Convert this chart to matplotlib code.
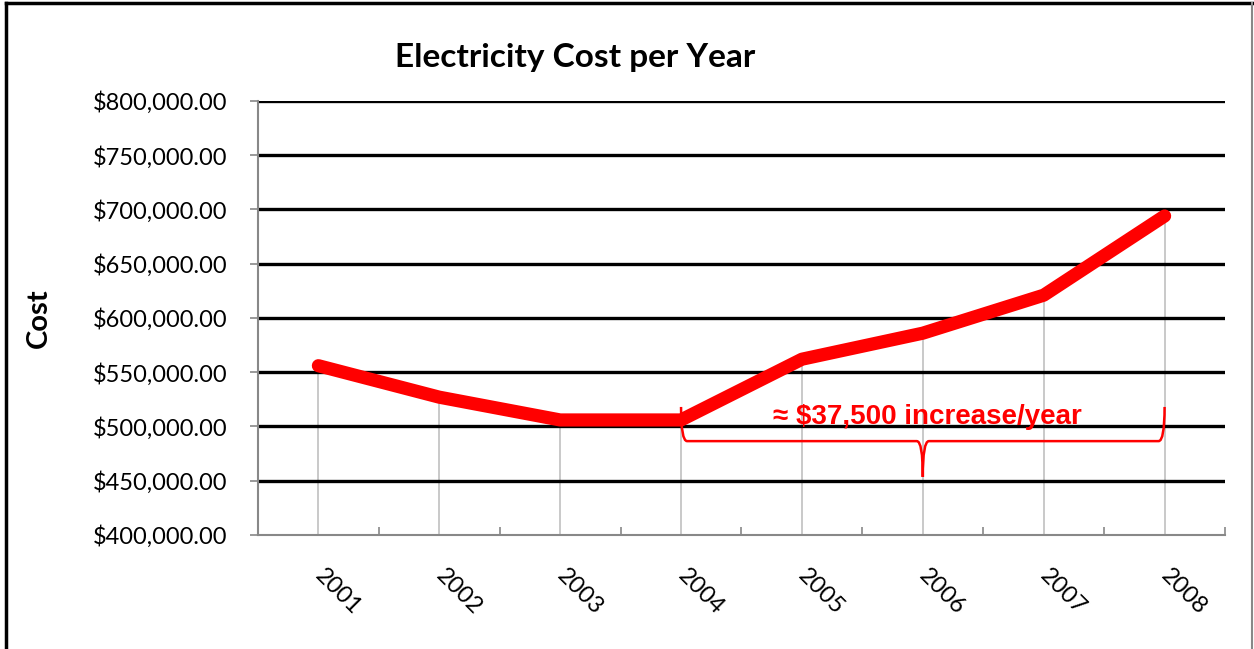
import numpy as np
import matplotlib
matplotlib.use('Agg')
import matplotlib.pyplot as plt
from matplotlib.path import Path
from matplotlib.patches import PathPatch
from matplotlib.lines import Line2D
from matplotlib.ticker import FuncFormatter

years = ['2001', '2002', '2003', '2004', '2005', '2006', '2007', '2008']
cost = [556000, 527000, 506000, 506000, 562000, 586000, 621000, 694000]
y_ticks = [400000, 450000, 500000, 550000, 600000, 650000, 700000, 750000, 800000]
note = '\u2248 $37,500 increase/year'
brace_from, brace_to = 3, 7   # 2004 .. 2008

plt.rcParams['font.family'] = ['Lato', 'DejaVu Sans']

fig = plt.figure(figsize=(12.54, 6.49), dpi=100)
ax = fig.add_axes([0.2057, 0.1757, 0.7712, 0.6687])

x = np.arange(len(years))

# drop lines from each point to the axis
ax.vlines(x, y_ticks[0], cost, color='#c0c0c0', lw=1.2, zorder=1)
# heavy black gridlines
ax.hlines(y_ticks[1:], -0.5, len(years) - 0.5, color='black', lw=2.4, zorder=2)
ax.plot(x, cost, color='#ff0000', lw=9.5, solid_capstyle='round',
        solid_joinstyle='round', zorder=4)

ax.set_xlim(-0.5, len(years) - 0.5)
ax.set_ylim(y_ticks[0], y_ticks[-1])
ax.set_yticks(y_ticks)
ax.yaxis.set_major_formatter(FuncFormatter(lambda v, p: '${:,.2f}'.format(v)))
ax.tick_params(axis='y', labelsize=17, length=6, width=1.2, color='#888888', pad=16)

ax.set_xticks(x)
ax.set_xticklabels(years, rotation=-45, ha='left', va='center', rotation_mode='anchor')
ax.tick_params(axis='x', which='major', length=0, labelsize=17, pad=27)
ax.set_xticks(np.arange(-0.5, len(years)), minor=True)
ax.tick_params(axis='x', which='minor', direction='in', length=6, width=1.2, color='#888888')

for s in ['top', 'right']:
    ax.spines[s].set_visible(False)
for s in ['left', 'bottom']:
    ax.spines[s].set_color('#888888')
    ax.spines[s].set_linewidth(1.5)
    ax.spines[s].set_zorder(3)

ax.set_ylabel('Cost', fontsize=21, fontweight='bold')
ax.yaxis.set_label_coords(-0.213, 0.5)
fig.text(0.4585, 0.912, 'Electricity Cost per Year', fontsize=24, fontweight='bold',
         ha='center', va='center')

# curly brace spanning 2004-2008
top, mid, tip = 518000, 486500, 453500
xm = (brace_from + brace_to) / 2
r = 0.05
verts = [(brace_from, top), (brace_from, mid), (brace_from + r, mid),
         (xm - r, mid), (xm, mid), (xm, tip),
         (xm, mid), (xm + r, mid),
         (brace_to - r, mid), (brace_to, mid), (brace_to, top)]
codes = [Path.MOVETO, Path.CURVE3, Path.CURVE3,
         Path.LINETO, Path.CURVE3, Path.CURVE3,
         Path.CURVE3, Path.CURVE3,
         Path.LINETO, Path.CURVE3, Path.CURVE3]
ax.add_patch(PathPatch(Path(verts, codes), fill=False, ec='#ff0000', lw=1.8, zorder=5))
ax.text(xm + 0.04, 509000, note, color='#ff0000', fontsize=20, fontweight='bold',
        family=['Liberation Sans', 'DejaVu Sans'], ha='center', va='center', zorder=6)

# outer frame
fig.add_artist(Line2D([0.0044, 0.0044], [0, 0.995], color='black', lw=2.5))
fig.add_artist(Line2D([0.0044, 1.0], [0.995, 0.995], color='black', lw=2.5))
fig.add_artist(Line2D([0.9985, 0.9985], [0, 0.995], color='#888888', lw=1.5))

fig.savefig('out.png', dpi=100)
